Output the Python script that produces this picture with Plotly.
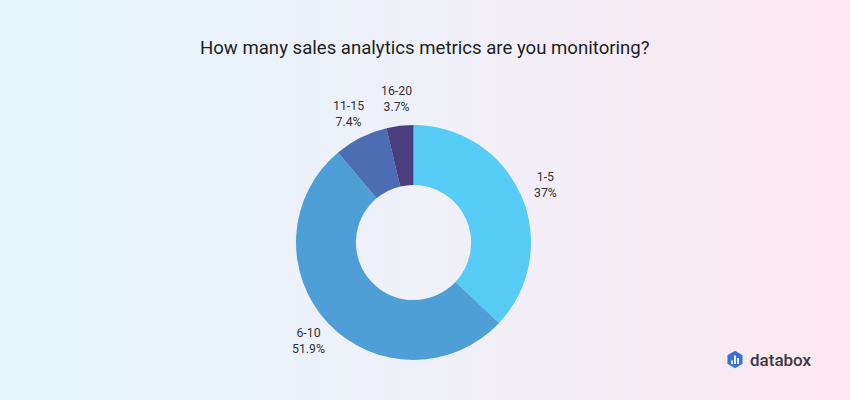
import math, base64
import plotly.graph_objects as go

categories = ["1-5", "6-10", "11-15", "16-20"]
values = [37.0, 51.9, 7.4, 3.7]
value_labels = ["37%", "51.9%", "7.4%", "3.7%"]
colors = ["#55CBF5", "#4E9ED8", "#4C6CB3", "#4B3E7E"]

W, H = 850, 400
cx, cy, R = 413.5, 242.5, 117.5
label_r = 144.0

svg = (
    '<svg xmlns="http://www.w3.org/2000/svg" width="850" height="400" preserveAspectRatio="none">'
    '<defs><linearGradient id="g" x1="0" y1="0" x2="1" y2="0">'
    '<stop offset="0" stop-color="#E5F5FC"/>'
    '<stop offset="0.5" stop-color="#EFF0F8"/>'
    '<stop offset="1" stop-color="#FDE7F0"/>'
    '</linearGradient></defs>'
    '<rect width="850" height="400" fill="url(#g)"/></svg>'
)
bg = "data:image/svg+xml;base64," + base64.b64encode(svg.encode()).decode()

fig = go.Figure(go.Pie(
    labels=categories, values=values, hole=0.49, sort=False,
    direction="clockwise", rotation=0,
    marker=dict(colors=colors, line=dict(width=0)),
    textinfo="none", hoverinfo="skip", showlegend=False,
    domain=dict(x=[(cx - R) / W, (cx + R) / W],
                y=[(H - cy - R) / H, (H - cy + R) / H]),
))

total = sum(values)
acc = 0.0
annotations = []
for cat, v, lab in zip(categories, values, value_labels):
    mid = (acc + v / 2) / total * 2 * math.pi
    acc += v
    x = cx + label_r * math.sin(mid)
    y = cy - label_r * math.cos(mid)
    annotations.append(dict(
        x=x / W, y=1 - y / H, xref="paper", yref="paper",
        text=f"{cat}<br>{lab}", showarrow=False,
        xanchor="center", yanchor="middle", align="center",
        font=dict(family="Roboto", size=12.3, color="#333333"),
    ))

annotations.append(dict(
    x=425 / W, y=1 - 48 / H, xref="paper", yref="paper",
    text="How many sales analytics metrics are you monitoring?",
    showarrow=False, xanchor="center", yanchor="middle",
    font=dict(family="Roboto", size=18.6, color="#1E1E1E"),
))
annotations.append(dict(
    x=748 / W, y=1 - 360 / H, xref="paper", yref="paper",
    text="databox", showarrow=False, xanchor="left", yanchor="middle",
    font=dict(family="Roboto", size=17, color="#3A3A3F", weight=500),
))

def px(x, y):
    return f"{x / W:.5f},{1 - y / H:.5f}"

hx, hy, hr = 735.0, 359.5, 8.7
pts = []
for k in range(6):
    a = math.radians(90 + 60 * k)
    pts.append(px(hx + hr * math.cos(a), hy - hr * math.sin(a)))
hex_path = "M" + " L".join(pts) + " Z"
shapes = [dict(type="path", path=hex_path, xref="paper", yref="paper",
               fillcolor="#3A72D8", line=dict(width=0))]
for bx, top in [(-3.0, 360.5), (0, 355.5), (3.0, 358.0)]:
    shapes.append(dict(type="rect", xref="paper", yref="paper",
                       x0=(hx + bx - 0.9) / W, x1=(hx + bx + 0.9) / W,
                       y0=1 - 364.0 / H, y1=1 - top / H,
                       fillcolor="white", line=dict(width=0)))

fig.update_layout(
    width=W, height=H, margin=dict(l=0, r=0, t=0, b=0),
    paper_bgcolor="rgba(0,0,0,0)", plot_bgcolor="rgba(0,0,0,0)",
    images=[dict(source=bg, xref="paper", yref="paper", x=0, y=1,
                 sizex=1, sizey=1, sizing="stretch", layer="below",
                 xanchor="left", yanchor="top")],
    annotations=annotations, shapes=shapes,
)
fig.write_html("out.html", config={"displayModeBar": False, "staticPlot": True},
               post_script="document.body.style.margin='0';document.body.style.overflow='hidden';")
